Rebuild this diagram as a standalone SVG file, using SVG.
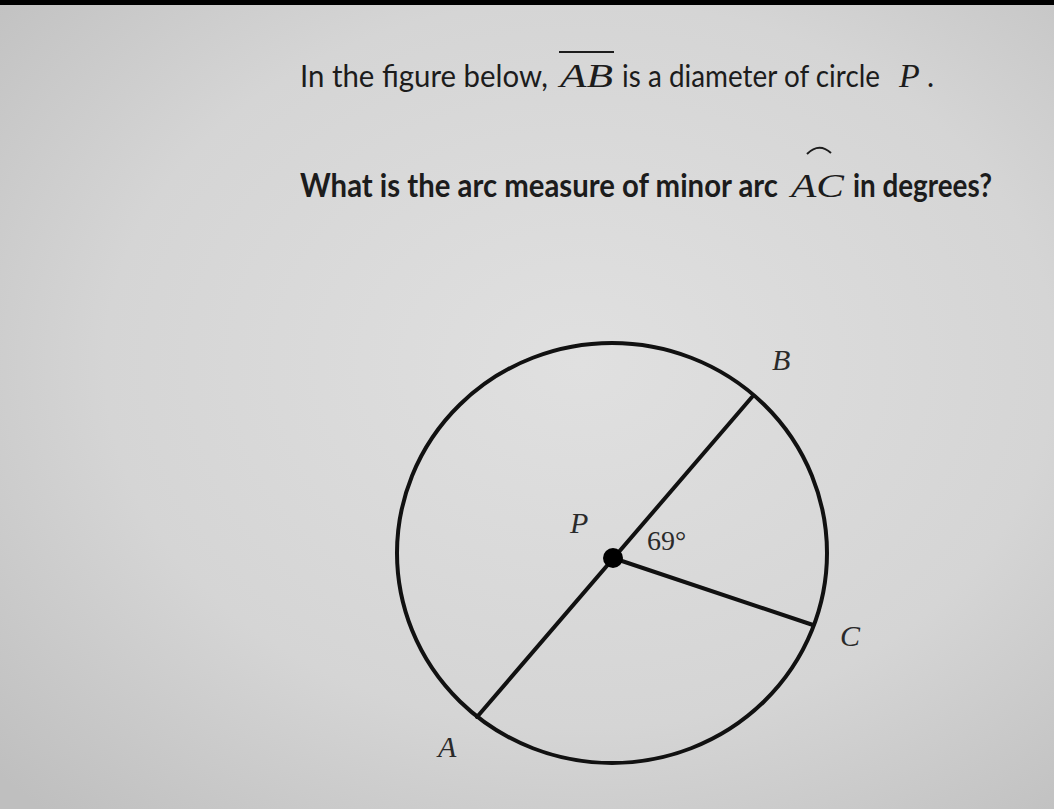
<svg xmlns="http://www.w3.org/2000/svg" width="1054" height="809" viewBox="0 0 1054 809">
<defs>
<radialGradient id="bg" cx="0.55" cy="0.45" r="0.75">
<stop offset="0" stop-color="#e0e0e0"/>
<stop offset="0.6" stop-color="#d5d5d5"/>
<stop offset="1" stop-color="#bfbfbf"/>
</radialGradient>
<style>
.q{font-family:Lato,"Open Sans",sans-serif;fill:#1c1c1c}
.m{font-family:"Liberation Serif","DejaVu Serif",serif;font-style:italic;fill:#1c1c1c}
.lbl{font-family:"Liberation Serif","DejaVu Serif",serif;font-style:italic;font-size:30px;fill:#2a2a2a}
.ln{stroke:#111;stroke-width:4;fill:none;stroke-linecap:round}
</style>
</defs>
<rect width="1054" height="809" fill="url(#bg)"/>
<rect width="1054" height="5" fill="#000"/>
<g id="question">
<text class="q" x="300" y="87" font-size="30" textLength="248" lengthAdjust="spacingAndGlyphs">In the figure below,</text>
<text class="m" x="560" y="87" font-size="34" textLength="53" lengthAdjust="spacingAndGlyphs">AB</text>
<line x1="559" y1="52" x2="614" y2="52" stroke="#1c1c1c" stroke-width="2"/>
<text class="q" x="622" y="87" font-size="30" textLength="258" lengthAdjust="spacingAndGlyphs">is a diameter of circle</text>
<text class="m" x="899" y="87" font-size="34">P</text>
<text class="q" x="927" y="87" font-size="30">.</text>
<text class="q" x="300" y="197" font-size="32" font-weight="bold" textLength="478" lengthAdjust="spacingAndGlyphs">What is the arc measure of minor arc</text>
<text class="m" x="791" y="197" font-size="34" textLength="53" lengthAdjust="spacingAndGlyphs">AC</text>
<path d="M807 154 Q819 142 831 153" stroke="#1c1c1c" stroke-width="2" fill="none"/>
<text class="q" x="853" y="197" font-size="32" font-weight="bold" textLength="139" lengthAdjust="spacingAndGlyphs">in degrees?</text>
</g>
<g id="circle-P">
<ellipse cx="612" cy="553" rx="215" ry="210" class="ln" stroke-width="3.5"/>
</g>
<g id="connectors">
<line class="ln" x1="477" y1="717" x2="752" y2="397"/>
<line class="ln" x1="613" y1="558" x2="813" y2="625"/>
</g>
<g id="point-P">
<circle cx="613" cy="558" r="10" fill="#000"/>
<text class="lbl" x="570" y="533">P</text>
</g>
<g id="angle">
<text x="647" y="550" font-family="'Liberation Serif','DejaVu Serif',serif" font-size="28" fill="#2a2a2a">69°</text>
</g>
<g id="point-B"><text class="lbl" x="772" y="370">B</text></g>
<g id="point-A"><text class="lbl" x="438" y="757">A</text></g>
<g id="point-C"><text class="lbl" x="840" y="646">C</text></g>
</svg>
